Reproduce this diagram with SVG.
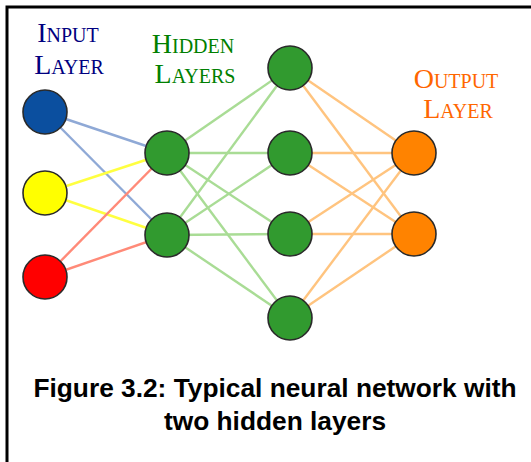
<svg xmlns="http://www.w3.org/2000/svg" width="531" height="462" viewBox="0 0 531 462">
<style>
.n{stroke:#2a2a2a;stroke-width:1.6}
.e{stroke-width:2.4;fill:none}
.eb{stroke:#8fa9d6}
.ey{stroke:#ffff40}
.er{stroke:#ff8a78}
.eg{stroke:#a9dc95}
.eo{stroke:#ffc47f}
.lbl{font-family:"Liberation Serif","Times New Roman",serif;text-anchor:middle}
.cap{font-family:"Liberation Sans",Arial,sans-serif;font-weight:bold;font-size:26.3px;text-anchor:middle;fill:#000}
</style>
<rect width="531" height="462" fill="#fff"/>
<path d="M7 462V7H531" fill="none" stroke="#000" stroke-width="3"/>
<g id="connectors">
<line class="e eb" x1="45" y1="112" x2="167" y2="153"/>
<line class="e eb" x1="45" y1="112" x2="167" y2="235"/>
<line class="e ey" x1="45" y1="193" x2="167" y2="153"/>
<line class="e ey" x1="45" y1="193" x2="167" y2="235"/>
<line class="e er" x1="45" y1="277" x2="167" y2="153"/>
<line class="e er" x1="45" y1="277" x2="167" y2="235"/>
<line class="e eg" x1="167" y1="153" x2="290" y2="68"/>
<line class="e eg" x1="167" y1="153" x2="290" y2="153"/>
<line class="e eg" x1="167" y1="153" x2="290" y2="234"/>
<line class="e eg" x1="167" y1="153" x2="290" y2="318"/>
<line class="e eg" x1="167" y1="235" x2="290" y2="68"/>
<line class="e eg" x1="167" y1="235" x2="290" y2="153"/>
<line class="e eg" x1="167" y1="235" x2="290" y2="234"/>
<line class="e eg" x1="167" y1="235" x2="290" y2="318"/>
<line class="e eo" x1="290" y1="68" x2="414" y2="153"/>
<line class="e eo" x1="290" y1="68" x2="414" y2="234"/>
<line class="e eo" x1="290" y1="153" x2="414" y2="153"/>
<line class="e eo" x1="290" y1="153" x2="414" y2="234"/>
<line class="e eo" x1="290" y1="234" x2="414" y2="153"/>
<line class="e eo" x1="290" y1="234" x2="414" y2="234"/>
<line class="e eo" x1="290" y1="318" x2="414" y2="153"/>
<line class="e eo" x1="290" y1="318" x2="414" y2="234"/>
</g>
<g id="in1"><circle class="n" cx="45" cy="112" r="22" fill="#0b4f9f"/></g>
<g id="in2"><circle class="n" cx="45" cy="193" r="22" fill="#ffff00"/></g>
<g id="in3"><circle class="n" cx="45" cy="277" r="22" fill="#ff0000"/></g>
<g id="h1a"><circle class="n" cx="167" cy="153" r="22" fill="#319a2f"/></g>
<g id="h1b"><circle class="n" cx="167" cy="235" r="22" fill="#319a2f"/></g>
<g id="h2a"><circle class="n" cx="290" cy="68" r="22" fill="#319a2f"/></g>
<g id="h2b"><circle class="n" cx="290" cy="153" r="22" fill="#319a2f"/></g>
<g id="h2c"><circle class="n" cx="290" cy="234" r="22" fill="#319a2f"/></g>
<g id="h2d"><circle class="n" cx="290" cy="318" r="22" fill="#319a2f"/></g>
<g id="out1"><circle class="n" cx="414" cy="153" r="22" fill="#ff8300"/></g>
<g id="out2"><circle class="n" cx="414" cy="234" r="22" fill="#ff8300"/></g>
<g id="label-input" class="lbl" fill="#000080">
<text x="68" y="42" font-size="28">I<tspan font-size="20">NPUT</tspan></text>
<text x="69" y="74" font-size="28">L<tspan font-size="20">AYER</tspan></text>
</g>
<g id="label-hidden" class="lbl" fill="#008000">
<text x="193" y="53" font-size="28">H<tspan font-size="20">IDDEN</tspan></text>
<text x="195" y="83" font-size="28">L<tspan font-size="20">AYERS</tspan></text>
</g>
<g id="label-output" class="lbl" fill="#ff6600">
<text x="456" y="88" font-size="28">O<tspan font-size="20">UTPUT</tspan></text>
<text x="458" y="118" font-size="28">L<tspan font-size="20">AYER</tspan></text>
</g>
<g id="caption">
<text class="cap" x="275" y="397">Figure 3.2: Typical neural network with</text>
<text class="cap" x="275" y="430">two hidden layers</text>
</g>
</svg>
